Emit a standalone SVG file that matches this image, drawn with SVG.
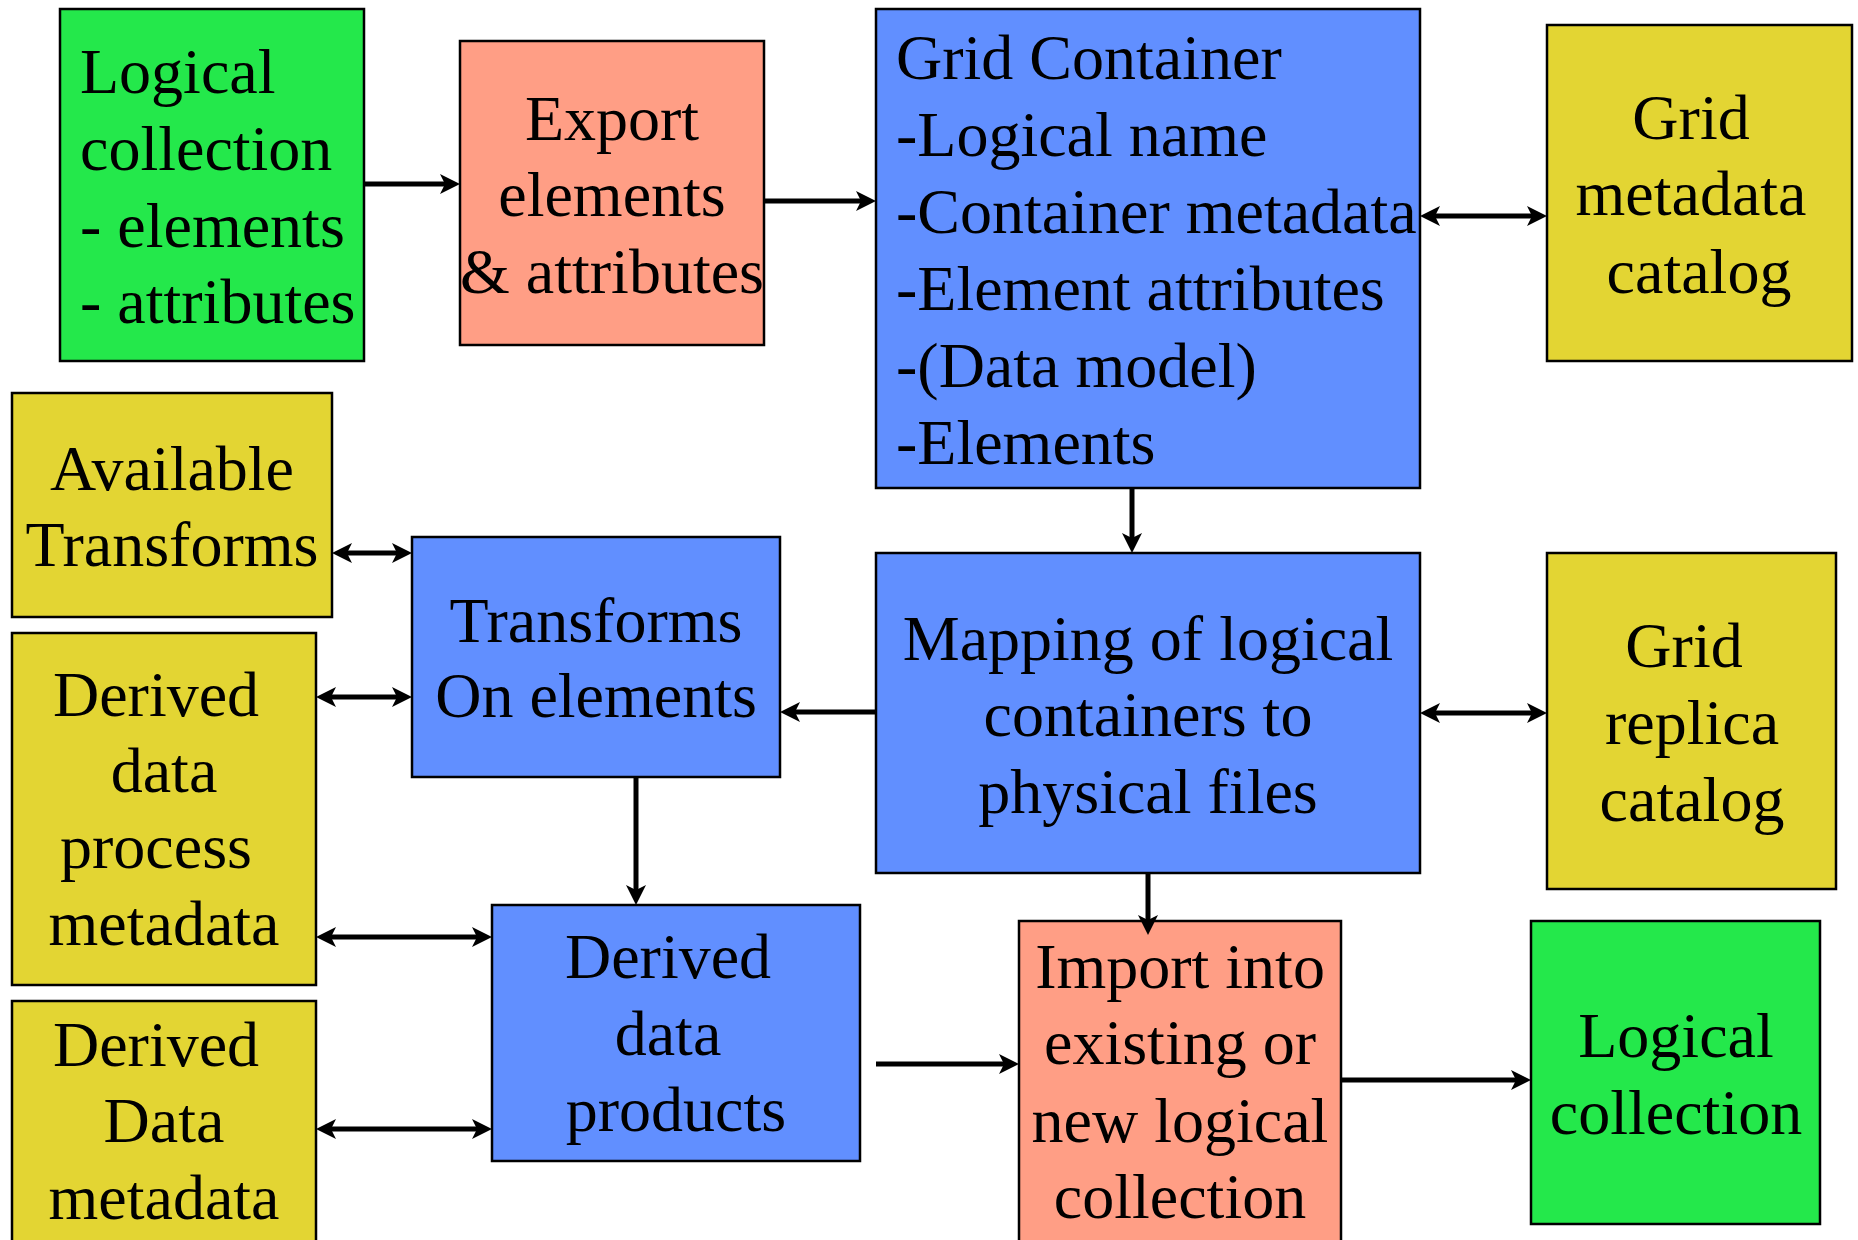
<svg xmlns="http://www.w3.org/2000/svg" width="1858" height="1240" viewBox="0 0 1858 1240">
  <style>
    .box { stroke: #000; stroke-width: 2.5; }
    .green { fill: #24E84B; }
    .salmon { fill: #FF9E85; }
    .blue { fill: #618FFF; }
    .yellow { fill: #E3D533; }
    text { font-family: "Liberation Serif", "Times New Roman", serif; font-size: 64px; fill: #000; }
    .c { text-anchor: middle; }
    .conn line { stroke: #000; stroke-width: 5; fill: none; }
    .one line { marker-end: url(#head); }
    .two line { marker-start: url(#head); marker-end: url(#head); }
  </style>
  <defs>
    <marker id="head" viewBox="-7 -12 24 24" markerWidth="24" markerHeight="24" refX="0" refY="0" markerUnits="userSpaceOnUse" orient="auto-start-reverse" overflow="visible">
      <path d="M15,0 L-5,-10 L0,0 L-5,10 Z" fill="#000"/>
    </marker>
  </defs>
  <rect width="1858" height="1240" fill="#fff"/>

  <!-- source collection -->
  <g id="logical-collection-src">
    <rect class="box green" x="60" y="9" width="304" height="352"/>
    <text x="80" y="93">Logical</text>
    <text x="80" y="170">collection</text>
    <text x="80" y="247">- elements</text>
    <text x="80" y="323">- attributes</text>
  </g>

  <g id="export">
    <rect class="box salmon" x="460" y="41" width="304" height="304"/>
    <text class="c" x="612" y="140">Export</text>
    <text class="c" x="612" y="216">elements</text>
    <text class="c" x="612" y="293">&amp; attributes</text>
  </g>

  <g id="grid-container">
    <rect class="box blue" x="876" y="9" width="544" height="479"/>
    <text x="896" y="79">Grid Container</text>
    <text x="896" y="156">-Logical name</text>
    <text x="896" y="233">-Container metadata</text>
    <text x="896" y="310">-Element attributes</text>
    <text x="896" y="387">-(Data model)</text>
    <text x="896" y="464">-Elements</text>
  </g>

  <g id="grid-metadata-catalog">
    <rect class="box yellow" x="1547" y="25" width="305" height="336"/>
    <text class="c" x="1691" y="139">Grid</text>
    <text class="c" x="1691" y="215">metadata</text>
    <text class="c" x="1699" y="293">catalog</text>
  </g>

  <g id="available-transforms">
    <rect class="box yellow" x="12" y="393" width="320" height="224"/>
    <text class="c" x="172" y="490">Available</text>
    <text class="c" x="172" y="566">Transforms</text>
  </g>

  <g id="transforms">
    <rect class="box blue" x="412" y="537" width="368" height="240"/>
    <text class="c" x="596" y="642">Transforms</text>
    <text class="c" x="596" y="717">On elements</text>
  </g>

  <g id="derived-process-metadata">
    <rect class="box yellow" x="12" y="633" width="304" height="352"/>
    <text class="c" x="156" y="716">Derived</text>
    <text class="c" x="164" y="792">data</text>
    <text class="c" x="156" y="868">process</text>
    <text class="c" x="164" y="945">metadata</text>
  </g>

  <g id="mapping">
    <rect class="box blue" x="876" y="553" width="544" height="320"/>
    <text class="c" x="1148" y="660">Mapping of logical</text>
    <text class="c" x="1148" y="736">containers to</text>
    <text class="c" x="1148" y="813">physical files</text>
  </g>

  <g id="grid-replica-catalog">
    <rect class="box yellow" x="1547" y="553" width="289" height="336"/>
    <text class="c" x="1684" y="667">Grid</text>
    <text class="c" x="1692" y="744">replica</text>
    <text class="c" x="1692" y="821">catalog</text>
  </g>

  <g id="derived-products">
    <rect class="box blue" x="492" y="905" width="368" height="256"/>
    <text class="c" x="668" y="978">Derived</text>
    <text class="c" x="668" y="1055">data</text>
    <text class="c" x="676" y="1131">products</text>
  </g>

  <g id="derived-data-metadata">
    <rect class="box yellow" x="12" y="1001" width="304" height="260"/>
    <text class="c" x="156" y="1066">Derived</text>
    <text class="c" x="164" y="1142">Data</text>
    <text class="c" x="164" y="1219">metadata</text>
  </g>

  <g id="import">
    <rect class="box salmon" x="1019" y="921" width="322" height="340"/>
    <text class="c" x="1180" y="988">Import into</text>
    <text class="c" x="1180" y="1064">existing or</text>
    <text class="c" x="1180" y="1142">new logical</text>
    <text class="c" x="1180" y="1218">collection</text>
  </g>

  <g id="logical-collection-dst">
    <rect class="box green" x="1531" y="921" width="289" height="303"/>
    <text class="c" x="1676" y="1057">Logical</text>
    <text class="c" x="1676" y="1134">collection</text>
  </g>

  <!-- connectors, drawn over the boxes so heads that reach into a box stay visible -->
  <g id="connectors" class="conn">
    <g class="one">
      <line x1="364" y1="184" x2="445" y2="184"/>
      <line x1="764" y1="201" x2="861" y2="201"/>
      <line x1="1132" y1="488" x2="1132" y2="538"/>
      <line x1="876" y1="712" x2="795" y2="712"/>
      <line x1="1148" y1="873" x2="1148" y2="920"/>
      <line x1="636" y1="777" x2="636" y2="890"/>
      <line x1="876" y1="1064" x2="1004" y2="1064"/>
      <line x1="1341" y1="1080" x2="1516" y2="1080"/>
    </g>
    <g class="two">
      <line x1="1435" y1="216" x2="1532" y2="216"/>
      <line x1="1435" y1="713" x2="1532" y2="713"/>
      <line x1="347" y1="553" x2="397" y2="553"/>
      <line x1="331" y1="697" x2="397" y2="697"/>
      <line x1="331" y1="937" x2="477" y2="937"/>
      <line x1="331" y1="1129" x2="477" y2="1129"/>
    </g>
  </g>
</svg>
